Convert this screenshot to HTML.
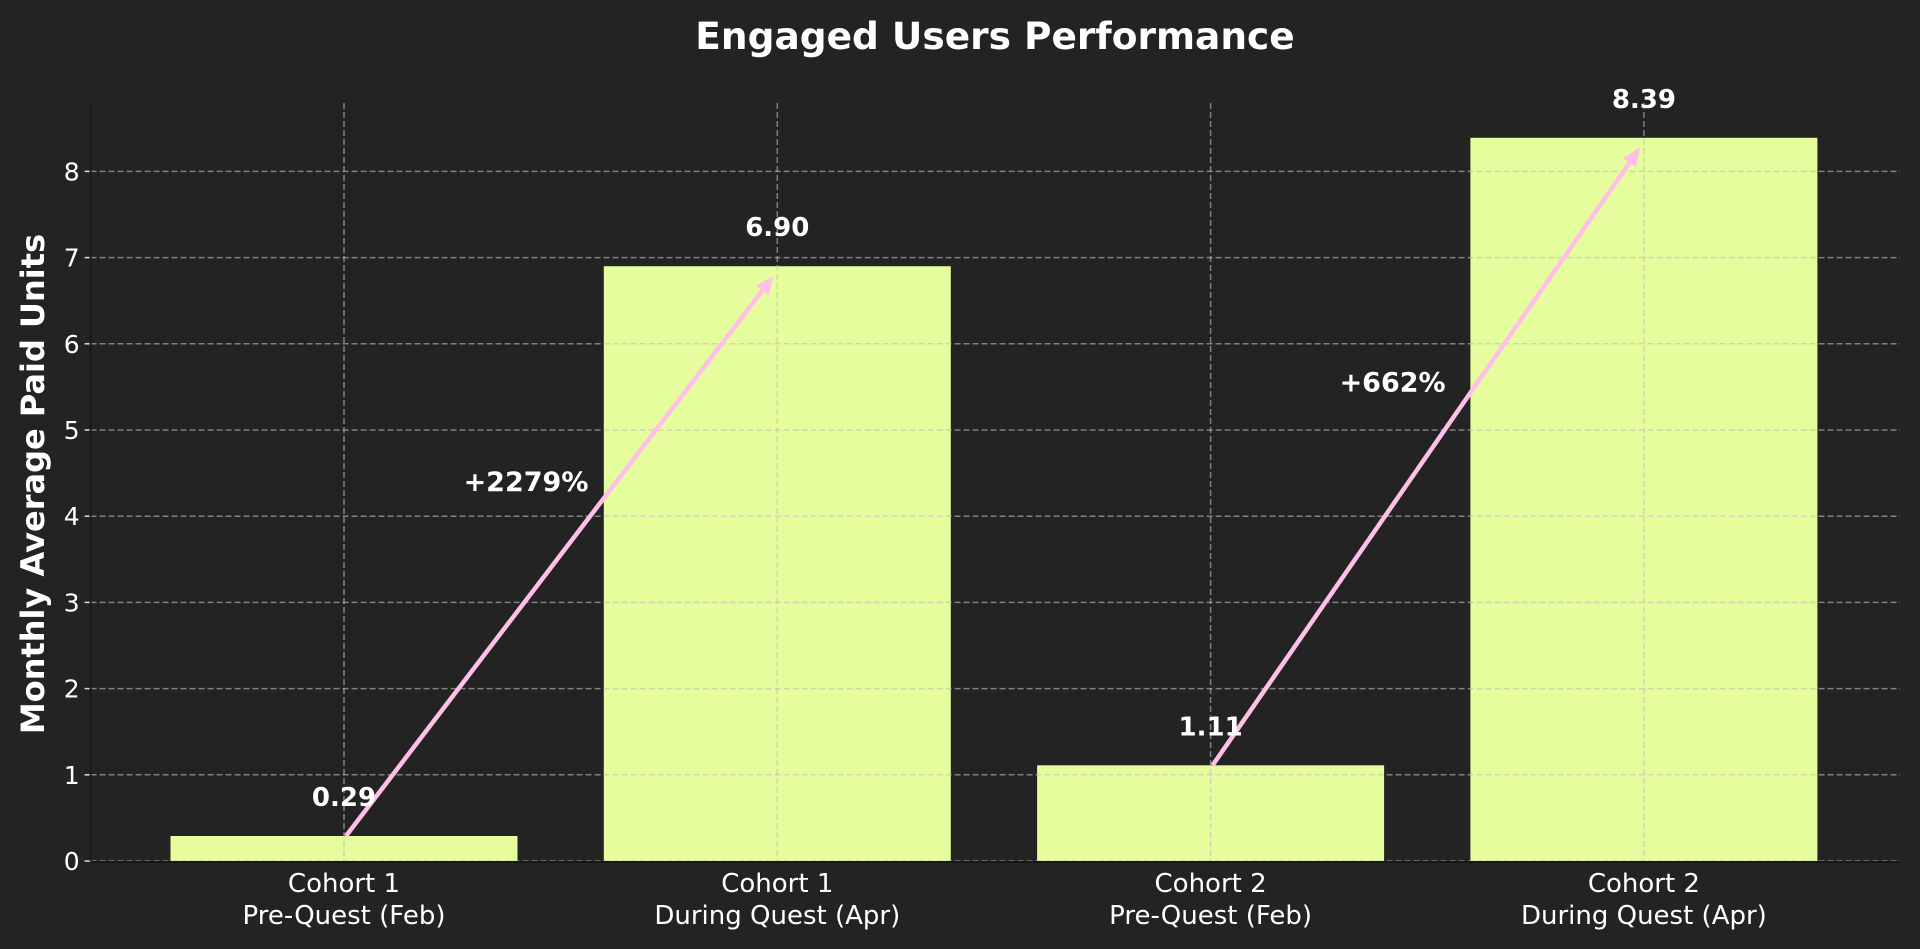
<!DOCTYPE html>
<html><head><meta charset="utf-8"><style>
html,body{margin:0;padding:0;background:#232323;}
svg{display:block;font-family:"DejaVu Sans","Liberation Sans",sans-serif;}
</style></head><body>
<svg id="chart" width="1920" height="949" viewBox="0 0 1920 949" xmlns="http://www.w3.org/2000/svg">
<rect width="1920" height="949" fill="#232323"/>
<text x="995" y="49" text-anchor="middle" font-size="37.5" font-weight="bold" fill="#ffffff">Engaged Users Performance</text>
<text transform="translate(44,484) rotate(-90)" text-anchor="middle" font-size="32" font-weight="bold" fill="#ffffff">Monthly Average Paid Units</text>
<g id="bars"></g><g id="grid"></g><g id="arrows"></g><g id="labels"></g><g id="axes"></g>
</svg>
<script>
const categoriesLine1 = ["Cohort 1","Cohort 1","Cohort 2","Cohort 2"];
const categoriesLine2 = ["Pre-Quest (Feb)","During Quest (Apr)","Pre-Quest (Feb)","During Quest (Apr)"];
const values = [0.29, 6.90, 1.11, 8.39];
const yTicks = [0,1,2,3,4,5,6,7,8];
const arrowPairs = [[0,1],[2,3]];
const growthLabels = ["+2279%","+662%"];
const NS = "http://www.w3.org/2000/svg";
const L = 90.6, R = 1900, T = 103, B = 861;
const x0 = 344, step = 433.3, barW = 347;
function xs(i){ return x0 + i*step; }
function ys(v){ return B - v*86.2; }
function mk(tag, attrs, parent){ const e=document.createElementNS(NS,tag); for(const k in attrs) e.setAttribute(k, attrs[k]); parent.appendChild(e); return e; }
const gb=document.getElementById('bars'), gg=document.getElementById('grid'), ga=document.getElementById('arrows'), gl=document.getElementById('labels'), gx=document.getElementById('axes');
values.forEach((v,i)=>{
  const r = mk('rect',{x:xs(i)-barW/2,y:ys(v),width:barW,height:B-ys(v),fill:'#e6fd9d'},gb);
  
  
  const t = mk('text',{x:xs(i),y:ys(v)-30,'text-anchor':'middle','font-size':26,'font-weight':'bold',fill:'#fff'},gl);
  t.textContent = v.toFixed(2);
  
  
  const vg = mk('line',{x1:xs(i),x2:xs(i),y1:T,y2:B,stroke:'rgba(190,190,190,0.6)','stroke-width':1.5,'stroke-dasharray':'6 3'},gg);
  
  
  const t1 = mk('text',{x:xs(i),y:892,'text-anchor':'middle','font-size':26,fill:'#fff'},gx);
  t1.textContent = categoriesLine1[i];
  
  
  const t2 = mk('text',{x:xs(i),y:924,'text-anchor':'middle','font-size':26,fill:'#fff'},gx);
  t2.textContent = categoriesLine2[i];
  
  
});
yTicks.forEach(v=>{
  const g = mk('line',{x1:L,x2:R,y1:ys(v),y2:ys(v),stroke:'rgba(190,190,190,0.6)','stroke-width':1.5,'stroke-dasharray':'6 3'},gg);
  
  
  const tk = mk('line',{x1:L-6,x2:L,y1:ys(v),y2:ys(v),stroke:'#ddd','stroke-width':1.5},gx);
  
  
  const t = mk('text',{x:L-11,y:ys(v)+9,'text-anchor':'end','font-size':25,fill:'#fff'},gx);
  t.textContent = v;
  
  
});
const ax = mk('line',{x1:L,x2:L,y1:T,y2:B,stroke:'#181818','stroke-width':2},gx);


const bx = mk('line',{x1:L,x2:R,y1:B+1,y2:B+1,stroke:'#181818','stroke-width':2},gx);


arrowPairs.forEach(([a,b],k)=>{
  const sx=xs(a)+2, sy=ys(values[a]);
  const tx=xs(b)-4, ty=ys(values[b])+10;
  const dx=tx-sx, dy=ty-sy, len=Math.hypot(dx,dy), ux=dx/len, uy=dy/len;
  const hx=tx-ux*16, hy=ty-uy*16;
  const ln = mk('line',{x1:sx,y1:sy,x2:hx,y2:hy,stroke:'#ffbfe9','stroke-width':4.5},ga);
  
  
  const px=-uy, py=ux;
  const hd = mk('polygon',{points:`${tx},${ty} ${hx-ux*2+px*8},${hy-uy*2+py*8} ${hx-ux*2-px*8},${hy-uy*2-py*8}`,fill:'#ffbfe9'},ga);
  
  
  const mx=(xs(a)+xs(b))/2 - 0.08*step, mv=(values[a]+values[b])/2 + 0.8;
  const t = mk('text',{x:mx,y:ys(mv)+9,'text-anchor':'middle','font-size':27,'font-weight':'bold',fill:'#fff'},gl);
  t.textContent = growthLabels[k];
  
  
});
</script>
</body></html>
